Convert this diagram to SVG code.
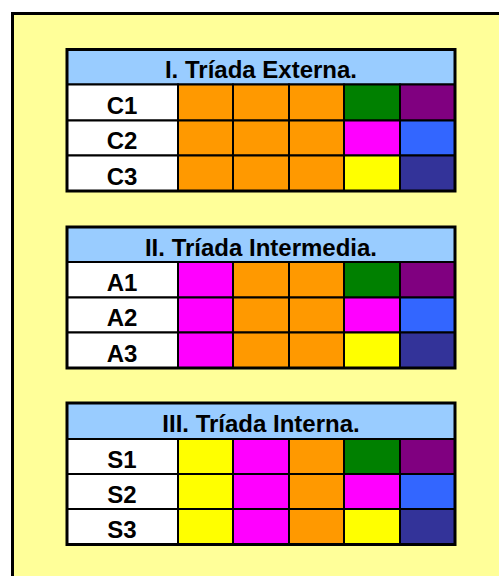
<svg xmlns="http://www.w3.org/2000/svg" width="499" height="576" viewBox="0 0 499 576">
<style>
.frame{fill:#FFFF99;stroke:#000;stroke-width:3}
.c{stroke:#000;stroke-width:2}
.edge{fill:none;stroke:#000;stroke-width:3}
.hd{fill:#99CCFF}
.lb{fill:#FFFFFF}
.o{fill:#FF9900}.g{fill:#008000}.p{fill:#800080}.m{fill:#FF00FF}.b{fill:#3366FF}.y{fill:#FFFF00}.d{fill:#333399}
text{font-family:"Liberation Sans",Arial,sans-serif;font-weight:bold;font-size:24px;fill:#000;text-anchor:middle}
</style>
<rect x="0" y="0" width="499" height="576" fill="#FFFFFF"/>
<rect class="frame" x="12.5" y="13.5" width="600" height="600"/>

<g id="triada-externa">
<rect class="c hd" x="67" y="49.5" width="388" height="35"/>
<rect class="c lb" x="67" y="84.5" width="111" height="36"/>
<rect class="c o" x="178" y="84.5" width="55" height="36"/><rect class="c o" x="233" y="84.5" width="56" height="36"/><rect class="c o" x="289" y="84.5" width="55" height="36"/><rect class="c g" x="344" y="84.5" width="56" height="36"/><rect class="c p" x="400" y="84.5" width="55" height="36"/>
<rect class="c lb" x="67" y="120.5" width="111" height="35"/>
<rect class="c o" x="178" y="120.5" width="55" height="35"/><rect class="c o" x="233" y="120.5" width="56" height="35"/><rect class="c o" x="289" y="120.5" width="55" height="35"/><rect class="c m" x="344" y="120.5" width="56" height="35"/><rect class="c b" x="400" y="120.5" width="55" height="35"/>
<rect class="c lb" x="67" y="155.5" width="111" height="35.5"/>
<rect class="c o" x="178" y="155.5" width="55" height="35.5"/><rect class="c o" x="233" y="155.5" width="56" height="35.5"/><rect class="c o" x="289" y="155.5" width="55" height="35.5"/><rect class="c y" x="344" y="155.5" width="56" height="35.5"/><rect class="c d" x="400" y="155.5" width="55" height="35.5"/>
<rect class="edge" x="67" y="49.5" width="388" height="141.5"/>
<text x="261" y="78">I. Tríada Externa.</text>
<text x="122" y="114">C1</text>
<text x="122" y="149">C2</text>
<text x="122" y="184.5">C3</text>
</g>

<g id="triada-intermedia">
<rect class="c hd" x="67" y="227" width="388" height="35"/>
<rect class="c lb" x="67" y="262" width="111" height="35.5"/>
<rect class="c m" x="178" y="262" width="55" height="35.5"/><rect class="c o" x="233" y="262" width="56" height="35.5"/><rect class="c o" x="289" y="262" width="55" height="35.5"/><rect class="c g" x="344" y="262" width="56" height="35.5"/><rect class="c p" x="400" y="262" width="55" height="35.5"/>
<rect class="c lb" x="67" y="297.5" width="111" height="35"/>
<rect class="c m" x="178" y="297.5" width="55" height="35"/><rect class="c o" x="233" y="297.5" width="56" height="35"/><rect class="c o" x="289" y="297.5" width="55" height="35"/><rect class="c m" x="344" y="297.5" width="56" height="35"/><rect class="c b" x="400" y="297.5" width="55" height="35"/>
<rect class="c lb" x="67" y="332.5" width="111" height="35.5"/>
<rect class="c m" x="178" y="332.5" width="55" height="35.5"/><rect class="c o" x="233" y="332.5" width="56" height="35.5"/><rect class="c o" x="289" y="332.5" width="55" height="35.5"/><rect class="c y" x="344" y="332.5" width="56" height="35.5"/><rect class="c d" x="400" y="332.5" width="55" height="35.5"/>
<rect class="edge" x="67" y="227" width="388" height="141"/>
<text x="261" y="255.5">II. Tríada Intermedia.</text>
<text x="122" y="291">A1</text>
<text x="122" y="326">A2</text>
<text x="122" y="361.5">A3</text>
</g>

<g id="triada-interna">
<rect class="c hd" x="67" y="403" width="388" height="36"/>
<rect class="c lb" x="67" y="439" width="111" height="35"/>
<rect class="c y" x="178" y="439" width="55" height="35"/><rect class="c m" x="233" y="439" width="56" height="35"/><rect class="c o" x="289" y="439" width="55" height="35"/><rect class="c g" x="344" y="439" width="56" height="35"/><rect class="c p" x="400" y="439" width="55" height="35"/>
<rect class="c lb" x="67" y="474" width="111" height="35"/>
<rect class="c y" x="178" y="474" width="55" height="35"/><rect class="c m" x="233" y="474" width="56" height="35"/><rect class="c o" x="289" y="474" width="55" height="35"/><rect class="c m" x="344" y="474" width="56" height="35"/><rect class="c b" x="400" y="474" width="55" height="35"/>
<rect class="c lb" x="67" y="509" width="111" height="35.5"/>
<rect class="c y" x="178" y="509" width="55" height="35.5"/><rect class="c m" x="233" y="509" width="56" height="35.5"/><rect class="c o" x="289" y="509" width="55" height="35.5"/><rect class="c y" x="344" y="509" width="56" height="35.5"/><rect class="c d" x="400" y="509" width="55" height="35.5"/>
<rect class="edge" x="67" y="403" width="388" height="141.5"/>
<text x="261" y="432">III. Tríada Interna.</text>
<text x="122" y="467.5">S1</text>
<text x="122" y="502.5">S2</text>
<text x="122" y="538">S3</text>
</g>
</svg>
